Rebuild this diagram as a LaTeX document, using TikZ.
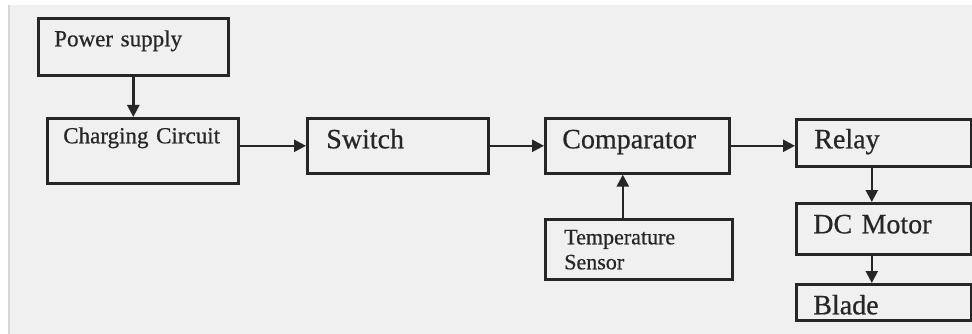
\documentclass[tikz,border=0pt]{standalone}
\usepackage{fontspec}
\setmainfont{Liberation Serif}[FakeBold=0.6]
\usetikzlibrary{arrows.meta}
\definecolor{bgc}{HTML}{F0F0F0}
\definecolor{edge}{HTML}{D6D6D6}
\definecolor{ink}{HTML}{262626}
\tikzset{
  blk/.style={draw=ink, line width=2.6pt, rectangle, anchor=north west, inner ysep=0pt, align=left, text=ink},
  conn/.style={draw=ink, line width=2.4pt, -{Triangle[length=12pt,width=12pt]}},
  big/.style={font=\fontsize{28}{30}\selectfont},
  mid/.style={font=\fontsize{23}{25}\selectfont},
  sml/.style={font=\fontsize{22}{25}\selectfont}
}
\begin{document}
\begin{tikzpicture}[x=1pt,y=-1pt]
\useasboundingbox (0,0) rectangle (972,334);
\fill[white] (0,0) rectangle (972,334);
\fill[bgc] (8,5) rectangle (972,334);
\draw[edge, line width=2pt] (9,5) -- (9,334);
% blocks
\node[blk, mid, inner xsep=16pt, text width=158pt, text height=28pt, text depth=29pt] (ps) at (37,17) {Power supply};
\node[blk, mid, inner xsep=16pt, text width=159pt, text height=25pt, text depth=40pt] (cc) at (46,117) {Charging Circuit};
\node[blk, big, inner xsep=19pt, text width=143pt, text height=30pt, text depth=25pt] (sw) at (306,117) {Switch};
\node[blk, big, inner xsep=17pt, text width=150pt, text height=30pt, text depth=25pt] (cmp) at (544,117) {Comparator};
\node[blk, sml, inner xsep=19pt, text width=149pt, text height=25pt, text depth=35pt] (ts) at (544,218) {Temperature\\Sensor};
\node[blk, big, inner xsep=18pt, text width=139pt, text height=29pt, text depth=18pt] (rl) at (795,118) {Relay};
\node[blk, big, inner xsep=17pt, text width=141pt, text height=30pt, text depth=21pt] (dc) at (795,202) {DC Motor};
\node[blk, big, inner xsep=17pt, text width=141pt, text height=30pt, text depth=6pt] (bl) at (795,283) {Blade};
% connectors
\draw[conn] (ps.south) -- (ps.south |- cc.north);
\draw[conn] (cc.east |- sw.west) -- (sw.west);
\draw[conn] (sw.east) -- (cmp.west);
\draw[conn] (cmp.east) -- (cmp.east -| rl.west);
\draw[conn] ([xshift=-16pt]ts.north) -- ([xshift=-16pt]ts.north |- cmp.south);
\draw[conn] ([xshift=-12pt]rl.south) -- ([xshift=-12pt]rl.south |- dc.north);
\draw[conn] ([xshift=-12pt]dc.south) -- ([xshift=-12pt]dc.south |- bl.north);
\end{tikzpicture}
\end{document}
